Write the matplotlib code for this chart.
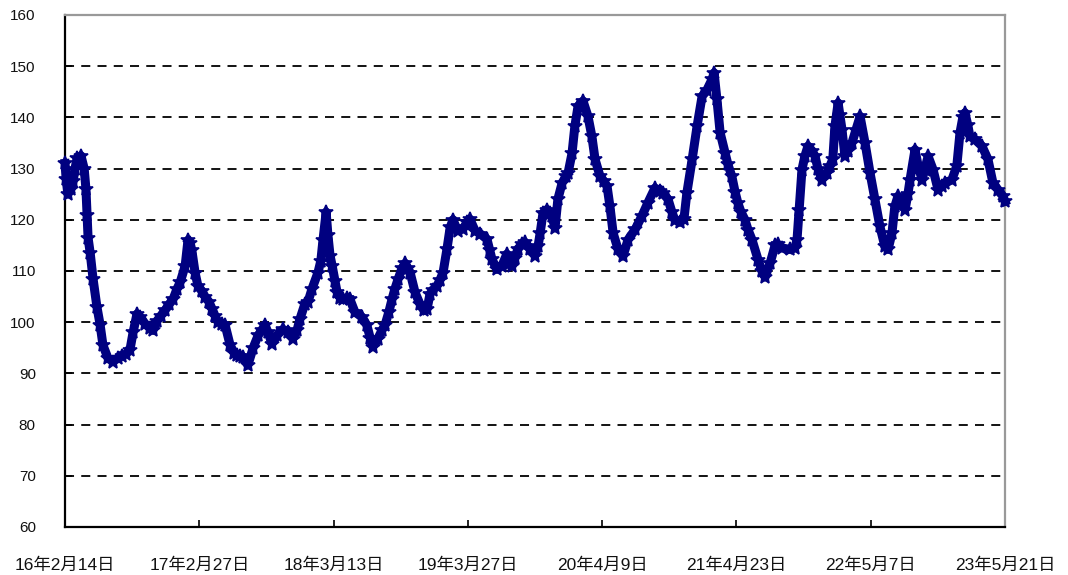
import pandas as pd
import matplotlib
matplotlib.use("Agg")
import matplotlib.pyplot as plt

plt.rcParams['font.family'] = ['Liberation Sans', 'Noto Sans CJK SC', 'DejaVu Sans']

# Start date and day offsets of each point
start_date = "2016-02-14"
day_offsets = [
    0, 3, 8, 17, 23, 28, 34, 45, 54, 59, 62, 65, 71, 79, 90, 99, 107, 121, 135, 150,
    161, 172, 183, 192, 203, 212, 226, 240, 248, 260, 271, 282, 294, 305, 316, 325, 339, 347, 353, 358,
    367, 375, 387, 395, 406, 415, 423, 432, 443, 452, 466, 477, 485, 494, 502, 516, 531, 545, 556, 564,
    573, 584, 598, 615, 629, 643, 655, 663, 677, 686, 697, 714, 722, 728, 737, 742, 748, 754, 762, 768,
    776, 785, 796, 804, 818, 838, 852, 861, 869, 883, 895, 903, 914, 923, 931, 940, 951, 960, 968, 974,
    988, 1002, 1013, 1022, 1030, 1039, 1050, 1058, 1067, 1078, 1087, 1095, 1104, 1109, 1123, 1135, 1143, 1157, 1171, 1191,
    1199, 1205, 1219, 1233, 1247, 1256, 1262, 1270, 1278, 1290, 1298, 1312, 1326, 1335, 1341, 1349, 1360, 1369, 1374, 1383,
    1391, 1403, 1414, 1420, 1431, 1439, 1448, 1462, 1476, 1487, 1496, 1510, 1521, 1530, 1538, 1547, 1561, 1575, 1589, 1609,
    1628, 1645, 1665, 1679, 1688, 1702, 1713, 1721, 1736, 1747, 1755, 1770, 1784, 1798, 1812, 1826, 1832, 1840, 1849, 1863,
    1871, 1882, 1891, 1899, 1908, 1919, 1928, 1939, 1956, 1967, 1976, 1990, 2004, 2012, 2024, 2046, 2060, 2066, 2072, 2080,
    2088, 2097, 2108, 2117, 2125, 2136, 2150, 2159, 2167, 2173, 2182, 2187, 2193, 2201, 2210, 2221, 2232, 2244, 2258, 2272,
    2286, 2300, 2314, 2323, 2334, 2342, 2351, 2362, 2371, 2379, 2385, 2399, 2408, 2419, 2427, 2436, 2450, 2464, 2475, 2484,
    2503, 2517, 2526, 2534, 2540, 2548, 2554, 2568, 2588, 2605, 2619, 2633, 2647, 2653,
]
values = [
    131, 128, 125, 126, 127.5, 130, 132, 132.5, 130, 126, 121, 116.5, 113.5, 108.5, 103, 99.5, 95.5, 93, 92.3, 93,
    93.4, 93.8, 94.5, 98, 101.6, 101, 99.7, 98.8, 98.4, 100.3, 101.3, 102.3, 103.5, 104.5, 106.5, 107.8, 111, 116, 115.5, 114,
    109.7, 107.1, 106, 105, 104, 102.6, 101.3, 100, 99.7, 99.4, 95.5, 94, 93.5, 93.4, 93.2, 91.6, 95, 97.4, 98.5, 99.5,
    98, 95.8, 97.4, 98.6, 98, 96.8, 98.5, 100.6, 103.6, 104, 106.5, 109.7, 112, 116, 121.5, 117, 113, 111, 108, 105.8,
    104.8, 104.5, 104.8, 104.5, 102, 101, 99.4, 97, 95.2, 96.8, 98.5, 99.4, 102, 104.5, 106.5, 108.4, 110.5, 111.5, 110.5, 109.7,
    105.8, 103.5, 102.3, 102.6, 105.5, 106.3, 107.1, 108.2, 109.7, 114.3, 118.5, 120, 118.5, 117.9, 118.2, 119.5, 120.1, 117.9, 117.3, 116.2,
    114, 112.3, 110.3, 111, 113.3, 111.5, 111, 112.5, 114.3, 115.2, 115.6, 114.3, 113, 114.8, 117.4, 121.3, 122, 121.3, 120.7, 118.4,
    124, 127.2, 128.5, 129.2, 133, 138.3, 142.2, 143.2, 140.2, 136.3, 131.8, 128.5, 127.5, 126.5, 122.6, 117.4, 114.2, 112.9, 116.1, 118.1,
    120.7, 123.3, 126.2, 125.6, 125.2, 124, 121.5, 120, 119.5, 120.2, 125.2, 131.8, 138.3, 144.1, 145.4, 147.4, 148.7, 143.5, 137, 133,
    130.8, 128.5, 125.5, 123.3, 121.5, 120, 118, 116.1, 112.2, 110, 108.8, 111.5, 115, 115.2, 114.5, 114.2, 114.5, 116.1, 122, 129.8,
    132.4, 134.4, 133.5, 132.4, 130, 127.8, 129.2, 130.5, 131.8, 138.3, 142.8, 140.5, 137.6, 132.5, 133.5, 135, 137.5, 140.2, 135, 129.2,
    124, 118.7, 114.8, 114.2, 117.4, 122.6, 124.6, 123.5, 122, 125, 127.8, 133.7, 130.5, 127.8, 130, 132.4, 129.8, 125.9, 126.5, 127.2,
    127.8, 130.5, 137, 140, 140.9, 138.5, 136.3, 135.7, 134.4, 131.8, 127.2, 125.9, 124.6, 123.6,
]

tick_dates = ["2016-02-14", "2017-02-27", "2018-03-13", "2019-03-27",
              "2020-04-09", "2021-04-23", "2022-05-07", "2023-05-21"]
tick_labels = ["16年2月14日", "17年2月27日", "18年3月13日", "19年3月27日",
               "20年4月9日", "21年4月23日", "22年5月7日", "23年5月21日"]
y_ticks = [60, 70, 80, 90, 100, 110, 120, 130, 140, 150, 160]

dates = pd.Timestamp(start_date) + pd.to_timedelta(day_offsets, unit="D")

fig = plt.figure(figsize=(10.68, 5.75), dpi=100)
ax = fig.add_axes([0.0609, 0.0835, 0.8801, 0.8905])

ax.plot(dates, values, color="#000080", linewidth=6.5, marker="*",
        markersize=10, markeredgewidth=1.2, solid_joinstyle="round",
        zorder=3, clip_on=False)

ax.set_xlim(pd.Timestamp(tick_dates[0]), pd.Timestamp(tick_dates[-1]))
ax.set_ylim(60, 160)
ax.set_yticks(y_ticks)
ax.set_xticks([pd.Timestamp(d) for d in tick_dates])
ax.set_xticklabels(tick_labels)

# dashed horizontal gridlines
for v in y_ticks[1:-1]:
    ax.axhline(v, color="black", linestyle=(0, (5, 4)), linewidth=1.3, zorder=1)

ax.spines["left"].set_color("black")
ax.spines["bottom"].set_color("black")
ax.spines["left"].set_linewidth(1.6)
ax.spines["bottom"].set_linewidth(1.6)
ax.spines["top"].set_color("#999999")
ax.spines["right"].set_color("#999999")
ax.spines["top"].set_linewidth(1.6)
ax.spines["right"].set_linewidth(1.6)

ax.tick_params(axis="x", direction="in", length=5, width=1.2, pad=22,
               labelsize=12.5, labelcolor="#111111")
ax.tick_params(axis="y", direction="in", length=5, width=1.2, pad=21,
               labelsize=11, labelcolor="#111111")

fig.savefig("out.png", dpi=100)
